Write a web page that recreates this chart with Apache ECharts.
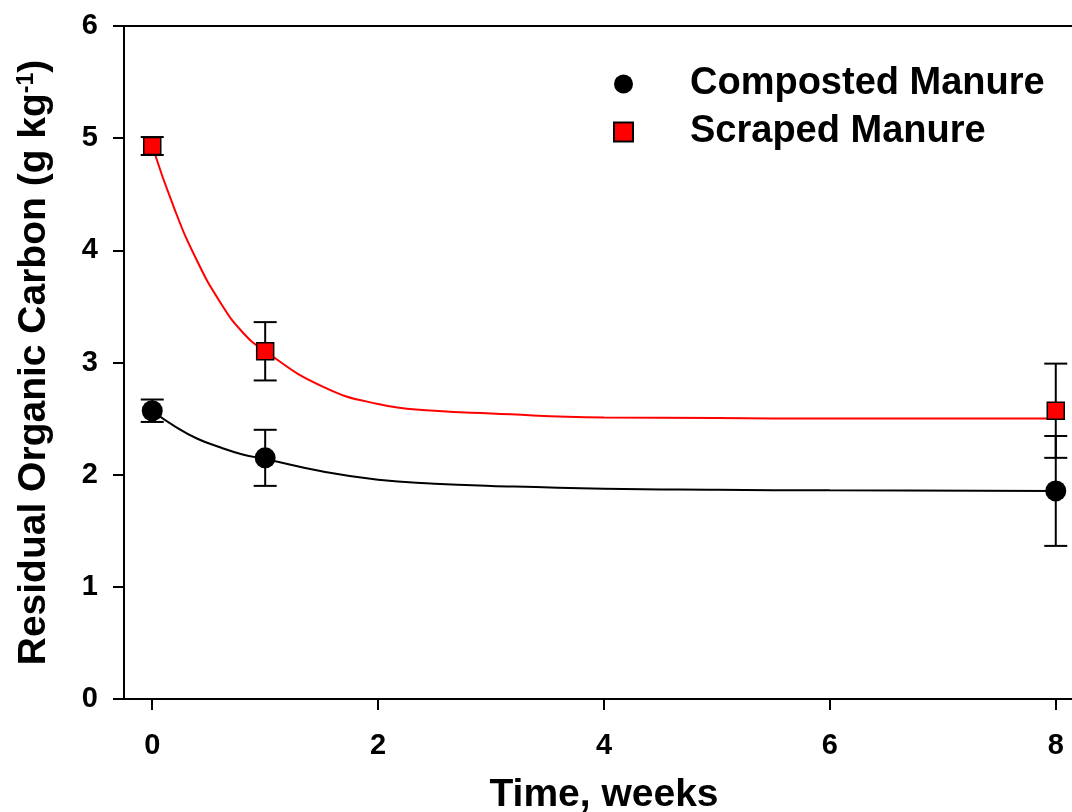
<!DOCTYPE html>
<html>
<head>
<meta charset="utf-8">
<title>Residual Organic Carbon</title>
<script src="https://cdn.jsdelivr.net/npm/echarts@6/dist/echarts.min.js"></script>
<style>
  html, body { margin: 0; padding: 0; background: #fff; }
  #chart { width: 1072px; height: 812px; }
</style>
</head>
<body>
<div id="chart"></div>
<script>
// Measured means and standard errors
const timeWeeks = [0, 1, 8];
const compostedMean = [2.57, 2.15, 1.855];
const compostedErr = [0.1, 0.25, 0.49];
const scrapedMean = [4.93, 3.10, 2.57];
const scrapedErr = [0.08, 0.26, 0.42];

// Fitted decay curves
const fitTime = [0, 0.2, 0.4, 0.6, 0.8, 1, 1.5, 2, 2.5, 3, 4, 5, 6, 8];
const compostedFit = [2.57, 2.43, 2.32, 2.245, 2.18, 2.14, 2.03, 1.955, 1.92, 1.90, 1.875, 1.865, 1.86, 1.855];
const scrapedFit = [4.93, 4.36, 3.90, 3.54, 3.27, 3.10, 2.79, 2.63, 2.57, 2.545, 2.51, 2.505, 2.50, 2.50];

const xTicks = [0, 2, 4, 6, 8];
const seriesNames = ['Composted Manure', 'Scraped Manure'];

const FONT = 'Liberation Sans, Arial, sans-serif';

function pairs(xs, ys) { return xs.map((x, i) => [x, ys[i]]); }
function errData(xs, ys, es) { return xs.map((x, i) => [x, ys[i] - es[i], ys[i] + es[i]]); }

function renderErr(params, api) {
  const x = api.value(0);
  const lo = api.coord([x, api.value(1)]);
  const hi = api.coord([x, api.value(2)]);
  const half = 11.5;
  const style = { stroke: '#000', lineWidth: 2 };
  return {
    type: 'group',
    children: [
      { type: 'line', shape: { x1: lo[0], y1: lo[1], x2: hi[0], y2: hi[1] }, style },
      { type: 'line', shape: { x1: lo[0] - half, y1: lo[1], x2: lo[0] + half, y2: lo[1] }, style },
      { type: 'line', shape: { x1: hi[0] - half, y1: hi[1], x2: hi[0] + half, y2: hi[1] }, style }
    ]
  };
}

const chart = echarts.init(document.getElementById('chart'), null, { renderer: 'canvas' });

chart.setOption({
  animation: false,
  backgroundColor: '#fff',
  textStyle: { fontFamily: FONT },
  grid: {
    left: 124, top: 26, bottom: 113, right: -12,
    containLabel: false, outerBoundsMode: 'none',
    show: true, borderColor: '#000', borderWidth: 2, backgroundColor: 'transparent'
  },
  legend: {
    orient: 'vertical',
    left: 608, top: 60,
    itemWidth: 19, itemHeight: 19,
    itemGap: 10,
    selectedMode: false,
    data: seriesNames,
    textStyle: {
      fontFamily: FONT, fontWeight: 'bold', fontSize: 38, color: '#000',
      padding: [0, 0, 0, 52], lineHeight: 38
    }
  },
  xAxis: {
    type: 'value', min: -0.25, max: 8.25,
    name: 'Time, weeks', nameLocation: 'middle', nameGap: 77, nameMoveOverlap: false,
    nameTextStyle: { fontFamily: FONT, fontWeight: 'bold', fontSize: 39, color: '#000' },
    axisLine: { show: true, onZero: false, lineStyle: { color: '#000', width: 2 } },
    axisTick: { show: true, inside: false, length: 11, customValues: xTicks, lineStyle: { color: '#000', width: 2 } },
    axisLabel: { customValues: xTicks, margin: 32, fontFamily: FONT, fontWeight: 'bold', fontSize: 29, color: '#000' },
    splitLine: { show: false }
  },
  yAxis: {
    type: 'value', min: 0, max: 6, interval: 1,
    name: '{t|Residual Organic Carbon (g kg}{s|-1}{t|)}',
    nameLocation: 'middle', nameGap: 70, nameRotate: 90, nameMoveOverlap: false,
    nameTextStyle: {
      rich: {
        t: { fontFamily: FONT, fontWeight: 'bold', fontSize: 39, color: '#000' },
        s: { fontFamily: FONT, fontWeight: 'bold', fontSize: 23, color: '#000', verticalAlign: 'top' }
      }
    },
    axisLine: { show: true, onZero: false, lineStyle: { color: '#000', width: 2 } },
    axisTick: { show: true, inside: false, length: 11, lineStyle: { color: '#000', width: 2 } },
    axisLabel: { margin: 26, fontFamily: FONT, fontWeight: 'bold', fontSize: 29, color: '#000' },
    splitLine: { show: false }
  },
  series: [
    {
      name: 'Composted fit', type: 'line', data: pairs(fitTime, compostedFit),
      smooth: 0.5, showSymbol: false, silent: true, z: 1,
      lineStyle: { color: '#000', width: 2 }
    },
    {
      name: 'Scraped fit', type: 'line', data: pairs(fitTime, scrapedFit),
      smooth: 0.5, showSymbol: false, silent: true, z: 1,
      lineStyle: { color: '#ff0000', width: 2 }
    },
    {
      name: 'Composted error', type: 'custom', renderItem: renderErr,
      data: errData(timeWeeks, compostedMean, compostedErr), z: 2, silent: true
    },
    {
      name: 'Scraped error', type: 'custom', renderItem: renderErr,
      data: errData(timeWeeks, scrapedMean, scrapedErr), z: 2, silent: true
    },
    {
      name: seriesNames[0], type: 'scatter', data: pairs(timeWeeks, compostedMean),
      symbol: 'circle', symbolSize: 21, z: 3,
      itemStyle: { color: '#000', opacity: 1 }
    },
    {
      name: seriesNames[1], type: 'scatter', data: pairs(timeWeeks, scrapedMean),
      symbol: 'rect', symbolSize: 17, z: 3,
      itemStyle: { color: '#ff0000', borderColor: '#000', borderWidth: 1.5, opacity: 1 }
    }
  ]
});
</script>
</body>
</html>
